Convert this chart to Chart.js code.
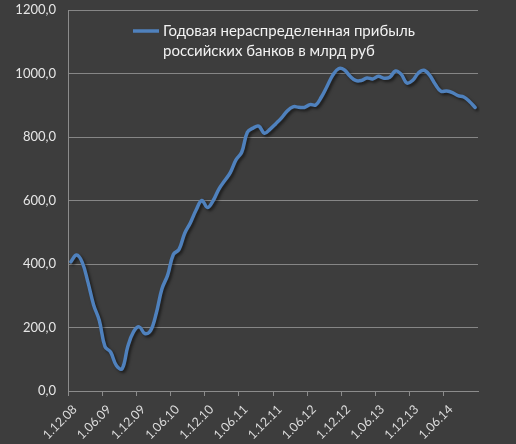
<!DOCTYPE html>
<html>
<head>
<meta charset="utf-8">
<script src="https://cdn.jsdelivr.net/npm/chart.js@4.4.1/dist/chart.umd.min.js"></script>
<style>
html,body{margin:0;padding:0;background:#3d3d3d;}
#wrap{width:516px;height:444px;position:relative;}
</style>
</head>
<body>
<div id="wrap"><canvas id="c"></canvas></div>
<script>
const categories = [
"1.12.08",
"1.01.09","1.02.09","1.03.09","1.04.09","1.05.09","1.06.09","1.07.09","1.08.09","1.09.09","1.10.09","1.11.09","1.12.09",
"1.01.10","1.02.10","1.03.10","1.04.10","1.05.10","1.06.10","1.07.10","1.08.10","1.09.10","1.10.10","1.11.10","1.12.10",
"1.01.11","1.02.11","1.03.11","1.04.11","1.05.11","1.06.11","1.07.11","1.08.11","1.09.11","1.10.11","1.11.11","1.12.11",
"1.01.12","1.02.12","1.03.12","1.04.12","1.05.12","1.06.12","1.07.12","1.08.12","1.09.12","1.10.12","1.11.12","1.12.12",
"1.01.13","1.02.13","1.03.13","1.04.13","1.05.13","1.06.13","1.07.13","1.08.13","1.09.13","1.10.13","1.11.13","1.12.13",
"1.01.14","1.02.14","1.03.14","1.04.14","1.05.14","1.06.14","1.07.14","1.08.14","1.09.14","1.10.14","1.11.14"
];
const tickLabels = ["1.12.08","1.06.09","1.12.09","1.06.10","1.12.10","1.06.11","1.12.11","1.06.12","1.12.12","1.06.13","1.12.13","1.06.14"];
const profit = [
407,428,405,343,271,222,140,122,80,70,140,186,
202,181,190,245,322,365,430,446,497,530,570,600,
578,600,636,662,688,728,752,815,828,834,812,825,
842,860,882,895,894,893,902,901,926,960,995,1015,
1012,992,978,978,986,983,991,985,988,1008,998,970,
978,1001,1010,995,966,944,945,940,930,926,912,893
];
const seriesLabel = ["Годовая нераспределенная прибыль", "российских банков в млрд руб"];
const yMin = 0, yMax = 1200, yStep = 200;

const FONT = "Lato, 'Noto Sans', sans-serif";

const shadowPlugin = {
  id: 'shadow',
  beforeDatasetsDraw(chart) {
    const ctx = chart.ctx;
    ctx.save();
    ctx.shadowColor = 'rgba(0,0,0,0.55)';
    ctx.shadowOffsetX = 2;
    ctx.shadowOffsetY = 2;
    ctx.shadowBlur = 3;
  },
  afterDatasetsDraw(chart) {
    chart.ctx.restore();
  }
};

const legendPlugin = {
  id: 'innerLegend',
  afterDraw(chart) {
    const ctx = chart.ctx;
    const a = chart.chartArea;
    const ds = chart.data.datasets[0];
    const lines = ds.label;
    const x0 = a.left + 65, y0 = a.top + 21;
    ctx.save();
    ctx.strokeStyle = ds.borderColor;
    ctx.lineWidth = 3.5;
    ctx.beginPath();
    ctx.moveTo(x0, y0);
    ctx.lineTo(x0 + 26, y0);
    ctx.stroke();
    ctx.fillStyle = '#f2f2f2';
    ctx.font = "15px " + FONT;
    ctx.textBaseline = 'middle';
    ctx.textAlign = 'left';
    lines.forEach((t, i) => ctx.fillText(t, x0 + 30, y0 + i * 20));
    ctx.restore();
  }
};

new Chart(document.getElementById('c'), {
  type: 'line',
  data: {
    labels: categories,
    datasets: [{
      label: seriesLabel,
      data: profit,
      borderColor: '#4F81BD',
      backgroundColor: '#4F81BD',
      borderWidth: 3.5,
      pointRadius: 0,
      tension: 0.4,
      fill: false,
      borderCapStyle: 'round',
      borderJoinStyle: 'round'
    }]
  },
  options: {
    responsive: true,
    maintainAspectRatio: false,
    animation: false,
    devicePixelRatio: 1,
    layout: { padding: { top: 10, right: 38, left: 0, bottom: 0 } },
    plugins: {
      legend: { display: false },
      tooltip: { enabled: false }
    },
    scales: {
      x: {
        type: 'category',
        offset: true,
        afterFit(s) { s.height = 53; s.paddingTop = 0; },
        border: { display: true, color: '#8c8c8c', width: 1 },
        grid: {
          offset: true,
          drawOnChartArea: false,
          drawTicks: true,
          tickLength: 5,
          tickColor: (c) => (c.index % 6 === 0 ? '#8c8c8c' : 'rgba(0,0,0,0)'),
          color: 'rgba(0,0,0,0)'
        },
        ticks: {
          autoSkip: false,
          minRotation: 45,
          maxRotation: 45,
          padding: 6,
          labelOffset: 4,
          color: '#dcdcdc',
          font: { family: FONT, size: 12.5 },
          callback(v, i) {
            const l = categories[i];
            return tickLabels.includes(l) ? l : '';
          }
        }
      },
      y: {
        min: yMin,
        max: yMax,
        afterFit(s) { s.width = 68; s.paddingTop = 0; s.paddingBottom = 0; },
        border: { display: true, color: '#8c8c8c', width: 1 },
        grid: { color: '#868686', lineWidth: 1, drawTicks: false },
        ticks: {
          stepSize: yStep,
          padding: 12,
          color: '#e6e6e6',
          font: { family: FONT, size: 13 },
          callback: (v) => v.toFixed(1).replace('.', ',')
        }
      }
    }
  },
  plugins: [shadowPlugin, legendPlugin]
});
</script>
</body>
</html>
